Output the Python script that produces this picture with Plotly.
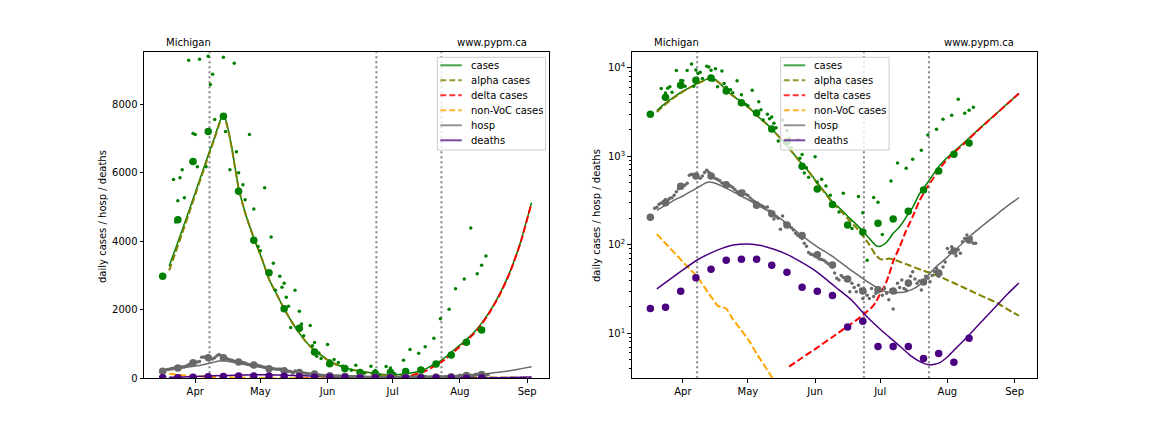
import plotly.graph_objects as go
import pandas as pd

BASE = pd.Timestamp('2021-04-01')

# ---------------- data (day offsets are days after 2021-04-01) ----------------
week_days = [-15, -8, -1, 6, 13, 20, 27, 34, 41, 48, 55, 62, 69, 76, 83, 90, 97, 104, 111, 118, 125, 132]
week_cases = [2980, 4630, 6330, 7210, 7650, 5460, 4030, 3080, 2030, 1460, 769, 427, 286, 167, 139, 175,
              195, 239, 416, 681, 1052, 1413]
week_hosp = [205, 299, 457, 598, 598, 478, 385, 279, 224, 167, 127, 77, 59, 41, 30, 31, 30, 37, 38, 48, 85, 113]
week_deaths = [19.1, 19.7, 29.8, 42.5, 52.8, 66.8, 68.6, 68.6, 58.6, 48.9, 33.1, 29.8, 26.8, 11.8, 13.7,
               7.1, 7.1, 7.1, 5.2, 5.9, 4.7, 8.8]

daily_case_days = [-10, -9, -8, -7, -6, -5, -3, -2, -1, 0, 1, 2, 4, 5, 6, 7, 8, 9, 11, 12, 13, 14, 15, 16,
                   18, 19, 20, 22, 23, 25, 27, 29, 30, 32, 35, 36, 37, 39, 40, 41, 42, 43, 44, 46, 48, 49,
                   50, 53, 54, 55, 56, 57, 58, 61, 62, 64, 66, 68, 72, 74, 78, 81, 83, 85, 88, 90, 92, 96,
                   99, 103, 106, 110, 113, 117, 120, 124, 127, 130, 132, 134]
daily_cases = [5806, 4566, 5182, 5856, 6091, 5270, 9287, 6325, 7147, 7117, 6179, 9317, 11000, 6179, 9405,
               8583, 8877, 7557, 10400, 10190, 9375, 7205, 9750, 6091, 9200, 6619, 6003, 5651, 5211, 7117,
               4947, 3850, 3724, 5563, 4126, 3361, 2571, 2982, 2660, 2777, 2366, 2103, 1487, 2571, 1956,
               1584, 1240, 1545, 947, 1047, 645, 742, 578, 988, 512, 548, 460, 362, 235, 381, 153, 352,
               230, 67, 343, 302, 131, 525, 839, 731, 923, 1166, 1738, 2014, 2612, 2897, 4392, 3055,
               3303, 3575]

daily_hosp_start = -13
daily_hosp = [258, 265, 287, 296, 307, 325, 318, 335, 340, 362, 398, 430, 445, 462, 473, 494, 612, 625,
              620, 585, 583, 566, 600, 655, 695, 660, 630, 605, 560, 545, 528, 500, 495, 480, 470, 461,
              445, 420, 398, 370, 388, 402, 372, 360, 338, 320, 308, 298, 286, 280, 270, 262, 268, 240,
              232, 196, 208, 200, 150, 211, 176, 172, 168, 156, 147, 135, 128, 123, 118, 104, 96, 82, 78,
              77, 74, 73, 69, 68, 67, 64, 61, 59, 56, 48, 42, 40, 45, 43, 40, 41, 29.5, 36.7, 33, 29.5,
              35, 31.4, 24.8, 29.5, 27, 24.8, 32, 26, 28.3, 30, 30.8, 27, 32, 28.3, 24, 31, 18.8, 29,
              36.7, 33, 40, 32, 30.8, 35, 44, 49.6, 41, 36.7, 39, 30.8, 37, 44, 41.8, 38.3, 45, 50, 54,
              44, 46.8, 56, 64, 91, 82, 95, 87, 75, 88, 80, 108, 118, 129, 113, 120, 104, 104]

cases_days = [-12, -9, -6, -3, 0, 3, 6, 9, 10, 11, 12, 13, 14, 15, 16, 17, 20, 23, 27, 31, 34, 38, 41, 45,
              48, 52, 55, 59, 62, 66, 69, 73, 76, 80, 83, 86, 89, 91, 93, 95, 97, 100, 103, 106, 109, 112,
              115, 118, 121, 125, 130, 135, 140, 145, 150, 155]
cases_model = [3280, 3800, 4330, 4870, 5420, 5970, 6520, 7050, 7250, 7440, 7600, 7680, 7560, 7320, 7020,
               6690, 5560, 4840, 4100, 3450, 2900, 2400, 2030, 1600, 1320, 1000, 815, 630, 500, 380, 305,
               250, 210, 170, 142, 118, 98, 96, 102, 115, 135, 160, 205, 265, 370, 470, 600, 760, 920,
               1130, 1450, 1880, 2420, 3100, 3990, 5130]

alpha_days = [-12, -9, -6, -3, 0, 3, 6, 9, 10, 11, 12, 13, 14, 15, 16, 17, 20, 23, 27, 31, 34, 38, 41, 45,
              48, 52, 55, 59, 62, 66, 69, 73, 76, 80, 83, 86, 89, 91, 93, 95, 98, 101, 105, 110, 114, 120,
              125, 130, 135, 140, 145, 150, 155]
alpha_model = [3148, 3690, 4238, 4793, 5356, 5916, 6475, 7014, 7217, 7410, 7572, 7655, 7537, 7300, 7000,
               6670, 5550, 4835, 4095, 3445, 2895, 2396, 2027, 1597, 1317, 995, 810, 624, 493, 372, 296,
               239, 198, 156, 126, 100, 76, 69, 68, 70, 67, 63, 58, 52, 48, 42, 37, 32.5, 28.5, 25, 22,
               18.5, 15.8]

delta_days = [49, 55, 62, 69, 76, 80, 84, 87, 89, 91, 93, 95, 97, 100, 103, 106, 109, 112, 115, 118, 121,
              125, 130, 135, 140, 145, 150, 155]
delta_model = [4.2, 5.3, 6.9, 9.1, 12.0, 14.1, 16.8, 19.5, 22.5, 28, 34, 45, 65, 95, 145, 208, 310, 420,
               540, 700, 870, 1090, 1415, 1850, 2395, 3080, 3970, 5115]

nonvoc_days = [-12, -9, -6, -3, 0, 3, 6, 9, 12, 14, 16, 18, 20, 23, 27, 31, 34, 38, 41, 45, 48, 55, 62]
nonvoc_model = [132, 110, 92, 77, 64, 54, 45, 36, 28, 24, 20.5, 19.8, 19.1, 14.5, 10.8, 7.9, 5.9, 4.2,
                3.2, 2.3, 1.8, 1.0, 0.55]

hosp_days = [-12, -8, -4, 0, 4, 8, 11, 13, 15, 18, 22, 26, 30, 35, 41, 48, 55, 62, 69, 76, 80, 84, 88, 91,
             94, 97, 100, 103, 106, 109, 112, 115, 118, 121, 125, 129, 133, 137, 140, 144, 147, 151, 155]
hosp_model = [245, 280, 320, 356, 404, 460, 505, 510, 495, 460, 412, 365, 324, 275, 229, 174, 126, 95, 74,
              55, 47, 40, 34.5, 31, 29.5, 29, 29, 29.5, 31.5, 35, 42, 51, 60, 69, 85, 104, 129, 155, 178,
              212, 245, 290, 340]

deaths_days = [-12, -6, 0, 6, 12, 18, 24, 30, 36, 42, 48, 53, 60, 66, 72, 78, 84, 90, 96, 100, 105, 110,
               114, 118, 122, 126, 130, 135, 140, 145, 150, 155]
deaths_model = [31.7, 40.7, 52, 66, 79, 91, 100, 102, 98, 89, 78, 67, 53, 41, 31, 23.5, 16.2, 11.7, 8.7,
                7.2, 5.6, 4.7, 4.4, 4.6, 5.4, 6.8, 8.5, 11.5, 15.5, 20.9, 28.2, 37]

event_days = [6.6, 83.5, 113.5]

month_ticks = ['2021-04-01', '2021-05-01', '2021-06-01', '2021-07-01', '2021-08-01', '2021-09-01']
legend_names = ['cases', 'alpha cases', 'delta cases', 'non-VoC cases', 'hosp', 'deaths']


def to_dates(days):
    return [BASE + pd.Timedelta(days=float(d)) for d in days]


daily_hosp_days = list(range(daily_hosp_start, daily_hosp_start + len(daily_hosp)))

# ---------------- geometry (page pixels; the page body adds an 8px margin) ----------------
W, H, OFF = 1120, 400, 8


def px(p):
    return (p - OFF) / W


def py(p):
    return 1 - (p - OFF) / H


FONT = 'DejaVu Sans'
GREEN, OLIVE, RED, ORANGE, GREY, INDIGO = '#008000', '#808000', '#ff0000', '#ffa500', '#696969', '#4b0082'
LEG_STYLE = {'cases': ('rgba(0,128,0,0.72)', None), 'alpha cases': ('rgba(128,128,0,0.8)', '6px,3px'),
             'delta cases': ('rgba(255,0,0,0.8)', '6px,3px'), 'non-VoC cases': ('rgba(255,165,0,0.8)', '6px,3px'),
             'hosp': ('rgba(105,105,105,0.72)', None), 'deaths': ('rgba(75,0,130,0.72)', None)}

fig = go.Figure()

panel_x = [(144.0, 549.3), (631.7, 1036.7)]
top_px, bot_px = 52.3, 378.3
legend_left = [437.3, 780.7]
legend_w, legend_top, legend_h = 108.4, 57.3, 92.7

shapes = []
annotations = []
for i, (xa, ya) in enumerate([('x', 'y'), ('x2', 'y2')]):
    def line(days, vals, color, dash=None, width=1.5):
        fig.add_trace(go.Scatter(x=to_dates(days), y=vals, mode='lines', xaxis=xa, yaxis=ya,
                                 line=dict(color=color, width=width, dash=dash, shape='spline', smoothing=0.5),
                                 showlegend=False, hoverinfo='skip'))

    line(cases_days, cases_model, GREEN)
    line(alpha_days, alpha_model, OLIVE, '7px,3px', 2)
    line(delta_days, delta_model, RED, '7px,3px', 2)
    line(nonvoc_days, nonvoc_model, ORANGE, '7px,3px', 2)
    line(hosp_days, hosp_model, GREY)
    line(deaths_days, deaths_model, INDIGO)

    def dots(days, vals, color, size):
        fig.add_trace(go.Scatter(x=to_dates(days), y=vals, mode='markers', xaxis=xa, yaxis=ya,
                                 marker=dict(color=color, size=size, line=dict(width=0)),
                                 showlegend=False, hoverinfo='skip'))

    dots(daily_case_days, daily_cases, GREEN, 3.5)
    dots(daily_hosp_days, daily_hosp, GREY, 3.5)
    dots(week_days, week_cases, GREEN, 7.5)
    dots(week_days, week_hosp, GREY, 7.5)
    dots(week_days, week_deaths, INDIGO, 7.5)

    for d in event_days:
        xd = to_dates([d])[0]
        shapes.append(dict(type='line', xref=xa, yref=ya + ' domain', x0=xd, x1=xd, y0=0, y1=1,
                           line=dict(color='#808080', width=2, dash='2px,3px'), layer='below'))

    annotations.append(dict(text='Michigan', xref=xa + ' domain', yref=ya + ' domain', x=0.05, y=1.031,
                            xanchor='left', yanchor='middle', showarrow=False,
                            font=dict(size=10, family=FONT, color='black')))
    annotations.append(dict(text='www.pypm.ca', xref=xa + ' domain', yref=ya + ' domain', x=0.95, y=1.031,
                            xanchor='right', yanchor='middle', showarrow=False,
                            font=dict(size=10, family=FONT, color='black')))

    L = legend_left[i]
    shapes.append(dict(type='rect', xref='paper', yref='paper', x0=px(L), x1=px(L + legend_w),
                       y0=py(legend_top + legend_h), y1=py(legend_top), fillcolor='rgba(255,255,255,0.8)',
                       line=dict(color='#cccccc', width=1), layer='above'))
    for k, name in enumerate(legend_names):
        yy = legend_top + 8 + 15 * k
        color, dash = LEG_STYLE[name]
        shapes.append(dict(type='line', xref='paper', yref='paper', x0=px(L + 3), x1=px(L + 24.5),
                           y0=py(yy), y1=py(yy), line=dict(color=color, width=2, dash=dash), layer='above'))
        annotations.append(dict(text=name, xref='paper', yref='paper', x=px(L + 31.5), y=py(yy),
                                xanchor='left', yanchor='middle', showarrow=False,
                                font=dict(size=10, family=FONT, color='black')))

for xpix in (102, 596):
    annotations.append(dict(text='daily cases / hosp / deaths', xref='paper', yref='paper', x=px(xpix),
                            y=py(216), textangle=-90, showarrow=False, xanchor='center', yanchor='middle',
                            font=dict(size=10, family=FONT, color='black')))

xrange = [BASE + pd.Timedelta(days=-23.6), BASE + pd.Timedelta(days=163.2)]
axis_common = dict(showline=True, linecolor='black', linewidth=1, mirror=True, ticks='outside', ticklen=3.5,
                   tickwidth=1, tickcolor='black', showgrid=False, zeroline=False, automargin=False,
                   tickfont=dict(size=10, family=FONT, color='black'))
xcommon = dict(axis_common, type='date', range=xrange, tickvals=month_ticks, tickformat='%b')

ydom = [py(bot_px), py(top_px)]
minor_vals = [m * 10 ** e for e in range(0, 5) for m in range(2, 10)]

fig.update_layout(
    width=W, height=H, autosize=False, margin=dict(l=0, r=0, t=0, b=0, autoexpand=False),
    paper_bgcolor='white', plot_bgcolor='white', showlegend=False,
    font=dict(family=FONT, size=10, color='black'),
    xaxis=dict(xcommon, domain=[px(panel_x[0][0]), px(panel_x[0][1])], anchor='y'),
    yaxis=dict(axis_common, domain=ydom, range=[0, 9520], tickvals=[0, 2000, 4000, 6000, 8000], anchor='x'),
    xaxis2=dict(xcommon, domain=[px(panel_x[1][0]), px(panel_x[1][1])], anchor='y2'),
    yaxis2=dict(axis_common, domain=ydom, type='log', range=[0.492, 4.174], anchor='x2',
                tickvals=[10, 100, 1000, 10000],
                ticktext=['10<sup>1</sup>', '10<sup>2</sup>', '10<sup>3</sup>', '10<sup>4</sup>'],
                minor=dict(tickvals=minor_vals, ticks='outside', ticklen=2, tickwidth=0.8, tickcolor='black')),
    shapes=shapes,
    annotations=annotations,
)

fig.write_html('out.html')
